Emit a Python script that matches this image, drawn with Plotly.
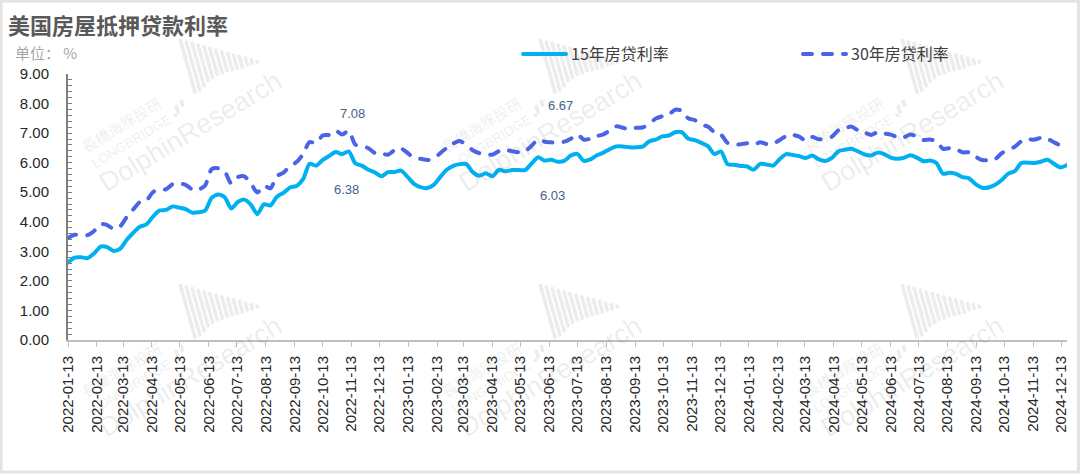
import pandas as pd
import plotly.graph_objects as go

# weekly rates
rate_15y = [
    2.62, 2.79, 2.80, 2.77, 2.93, 3.16, 3.14, 3.01, 3.09, 3.39, 3.63, 3.83, 3.91, 4.17, 4.38, 4.40, 4.52,
    4.48, 4.43, 4.31, 4.32, 4.38, 4.81, 4.92, 4.83, 4.45, 4.67, 4.75, 4.58, 4.26, 4.59, 4.55, 4.85, 4.98,
    5.16, 5.21, 5.44, 5.96, 5.90, 6.09, 6.23, 6.36, 6.29, 6.38, 5.98, 5.90, 5.76, 5.67, 5.54, 5.68, 5.68,
    5.73, 5.52, 5.28, 5.17, 5.14, 5.25, 5.51, 5.76, 5.89, 5.95, 5.95, 5.68, 5.56, 5.64, 5.54, 5.76, 5.71,
    5.75, 5.75, 5.75, 5.97, 6.18, 6.07, 6.10, 6.03, 6.06, 6.24, 6.30, 6.06, 6.11, 6.25, 6.34, 6.46, 6.55,
    6.55, 6.52, 6.52, 6.54, 6.72, 6.78, 6.89, 6.92, 7.03, 7.03, 6.81, 6.76, 6.67, 6.56, 6.29, 6.38, 5.95,
    5.93, 5.89, 5.87, 5.76, 5.96, 5.94, 5.90, 6.12, 6.29, 6.26, 6.22, 6.16, 6.24, 6.11, 6.06, 6.16, 6.39,
    6.44, 6.47, 6.38, 6.28, 6.24, 6.34, 6.29, 6.17, 6.13, 6.16, 6.25, 6.17, 6.05, 6.07, 5.99, 5.63, 5.66,
    5.62, 5.51, 5.47, 5.27, 5.15, 5.16, 5.25, 5.41, 5.63, 5.71, 5.99, 6.00, 5.99, 6.03, 6.10, 5.96, 5.84,
    5.92,
]
rate_30y = [
    3.45, 3.56, 3.55, 3.55, 3.69, 3.92, 3.89, 3.76, 3.85, 4.16, 4.42, 4.67, 4.72, 5.00, 5.11, 5.10, 5.27,
    5.30, 5.25, 5.10, 5.09, 5.23, 5.78, 5.81, 5.70, 5.30, 5.51, 5.54, 5.30, 4.99, 5.22, 5.13, 5.55, 5.66,
    5.89, 6.02, 6.29, 6.70, 6.66, 6.92, 6.94, 7.08, 6.95, 7.08, 6.61, 6.58, 6.49, 6.33, 6.31, 6.27, 6.42,
    6.48, 6.33, 6.15, 6.13, 6.09, 6.12, 6.32, 6.50, 6.65, 6.73, 6.60, 6.42, 6.32, 6.28, 6.27, 6.39, 6.43,
    6.39, 6.35, 6.39, 6.57, 6.79, 6.71, 6.69, 6.67, 6.71, 6.81, 6.96, 6.78, 6.81, 6.90, 6.96, 7.09, 7.23,
    7.18, 7.12, 7.18, 7.19, 7.31, 7.49, 7.57, 7.63, 7.79, 7.76, 7.50, 7.44, 7.29, 7.22, 7.03, 6.95, 6.67,
    6.61, 6.62, 6.66, 6.60, 6.69, 6.63, 6.64, 6.77, 6.90, 6.94, 6.88, 6.74, 6.87, 6.79, 6.82, 6.88, 7.10,
    7.17, 7.22, 7.09, 7.02, 6.94, 7.03, 6.99, 6.95, 6.87, 6.86, 6.95, 6.89, 6.77, 6.78, 6.73, 6.47, 6.49,
    6.46, 6.35, 6.35, 6.20, 6.09, 6.08, 6.12, 6.32, 6.44, 6.54, 6.72, 6.79, 6.78, 6.84, 6.81, 6.69, 6.60,
    6.72,
]
dates = pd.date_range("2022-01-13", periods=len(rate_15y), freq="7D")
tick_dates = pd.date_range("2022-01-13", "2024-12-13", freq=pd.DateOffset(months=1))
tick_labels = [d.strftime("%Y-%m-%d") for d in tick_dates]
y_ticks = [0, 1, 2, 3, 4, 5, 6, 7, 8, 9]

# label date, series value, text
callouts = [
    ("2022-11-10", 7.08, 4, 17),
    ("2022-11-10", 6.38, -2, -38),
    ("2023-06-22", 6.67, 3, 37),
    ("2023-06-22", 6.03, -5, -34),
]

LEFT, RIGHT, TOP, BOTTOM = 68, 1067, 74, 340
W, H = 1080, 474


def px_x(x):
    return (x - LEFT) / (RIGHT - LEFT)


def px_y(y):
    return (BOTTOM - y) / (BOTTOM - TOP)


shapes = []
annotations = []


def add_watermark(dx, dy):
    mark = "rgba(110,110,110,0.13)"
    annotations.append(dict(text="DolphinResearch", x=px_x(190 + dx), y=px_y(132 + dy), textangle=-31,
                            xanchor="center", yanchor="middle",
                            font=dict(family="Liberation Sans", size=27, color=mark)))
    annotations.append(dict(text="LONGBRIDGE", x=px_x(131 + dx), y=px_y(141 + dy), textangle=-31,
                            xanchor="center", yanchor="middle",
                            font=dict(family="Liberation Sans", size=13.5, color=mark)))
    annotations.append(dict(text="長橋海豚投研", x=px_x(121 + dx), y=px_y(124 + dy), textangle=-31,
                            xanchor="center", yanchor="middle",
                            font=dict(family="Noto Sans CJK TC", size=15, color=mark)))
    # the fan of little bars of the logo
    bar_lens = [57, 53, 47, 40, 35, 30, 27, 23, 20, 17, 14, 10, 7, 4]
    for k, length in enumerate(bar_lens):
        x0 = 180 + 5.9 * k + dx
        y0 = 39 + 1.6 * k + dy
        shapes.append(dict(type="line", xref="paper", yref="paper", layer="below",
                           x0=px_x(x0), y0=px_y(y0),
                           x1=px_x(x0 + 0.27 * length), y1=px_y(y0 + 0.96 * length),
                           line=dict(color="#ececec", width=3.5)))
    for x0, y0, length in [(176, 105, 9), (181, 100, 7), (175, 114, 3)]:
        shapes.append(dict(type="line", xref="paper", yref="paper", layer="below",
                           x0=px_x(x0 + dx), y0=px_y(y0 + dy),
                           x1=px_x(x0 + dx + 0.27 * length), y1=px_y(y0 + dy + 0.96 * length),
                           line=dict(color="#ececec", width=3.5)))


for row in [0, 245]:
    for col in [0, 360, 722]:
        add_watermark(col, row)

# outer frame of the picture
shapes.append(dict(type="rect", xref="paper", yref="paper", layer="below",
                   x0=px_x(1), x1=px_x(1078.5), y0=px_y(1), y1=px_y(472),
                   line=dict(color="#e3e3e3", width=3)))

annotations.append(dict(text="美国房屋抵押贷款利率", x=px_x(6), y=px_y(24), xanchor="left", yanchor="middle",
                        font=dict(family="Noto Sans CJK SC", size=22, color="#595959", weight="bold")))
annotations.append(dict(text="单位： %", x=px_x(13), y=px_y(53), xanchor="left", yanchor="middle",
                        font=dict(family="Noto Sans CJK SC", size=15, color="#a6a6a6")))
for ann in annotations:
    ann.update(xref="paper", yref="paper", showarrow=False)

for day, value, sx, sy in callouts:
    annotations.append(dict(x=day, y=value, text=f"{value:.2f}", xref="x", yref="y", showarrow=False,
                            xshift=sx, yshift=sy,
                            font=dict(family="Liberation Sans", size=13, color="#46628c")))

fig = go.Figure()
fig.add_scatter(x=dates, y=rate_15y, name="15年房贷利率", mode="lines", showlegend=True,
                line=dict(color="#00b0f0", width=4, shape="spline", smoothing=0.7))
fig.add_scatter(x=dates, y=rate_30y, name="30年房贷利率", mode="lines", showlegend=True, legend="legend2",
                line=dict(color="#4a63e7", width=4, shape="spline", smoothing=0.7, dash="9px,11px"))

legend_font = dict(family="Noto Sans CJK SC", size=16, color="#404040")
fig.update_layout(
    width=W, height=H,
    margin=dict(l=LEFT, r=W - RIGHT, t=TOP, b=H - BOTTOM, pad=0),
    paper_bgcolor="white", plot_bgcolor="rgba(0,0,0,0)",
    font=dict(family="Liberation Sans", color="#262626"),
    shapes=shapes, annotations=annotations,
    legend=dict(x=px_x(518), y=px_y(54), xanchor="left", yanchor="middle", itemwidth=43,
                bgcolor="rgba(0,0,0,0)", font=legend_font),
    legend2=dict(x=px_x(798), y=px_y(54), xanchor="left", yanchor="middle", itemwidth=43,
                 bgcolor="rgba(0,0,0,0)", font=legend_font),
)
fig.update_xaxes(type="date", range=[dates[0], dates[-1]], tickvals=list(tick_dates), ticktext=tick_labels,
                 tickangle=-90, tickfont=dict(size=15, color="#262626"), ticks="outside", ticklen=5,
                 ticklabelstandoff=3, tickcolor="#bfbfbf", showline=True, linecolor="#bfbfbf", linewidth=2,
                 showgrid=False, zeroline=False)
fig.update_yaxes(range=[0, 9], tickvals=y_ticks, tickformat=".2f", tickfont=dict(size=15, color="#262626"),
                 ticks="inside", ticklen=4, ticklabelstandoff=14, tickcolor="#7f7f7f", showline=True,
                 linecolor="#7f7f7f", linewidth=2, showgrid=False, zeroline=False,
                 minor=dict(dtick=0.2, ticks="inside", ticklen=4, tickcolor="#7f7f7f", showgrid=False))

# round dash ends, plain page margin
post = """
document.body.style.margin = '0';
document.body.style.overflow = 'hidden';
document.querySelectorAll('.scatterlayer .js-line, .legendlines path').forEach(function (p) {
    p.style.strokeLinecap = 'round';
});
"""
fig.write_html("out.html", post_script=post, config=dict(displayModeBar=False))
